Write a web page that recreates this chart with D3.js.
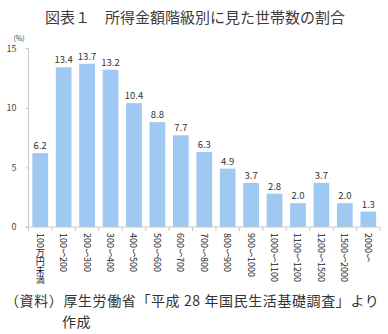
<!DOCTYPE html>
<html><head><meta charset="utf-8">
<script src="https://cdn.jsdelivr.net/npm/d3@7"></script>
<style>
body{margin:0;background:#fff;}
svg text{font-family:"Noto Sans CJK JP","Noto Sans",sans-serif;}
</style></head>
<body><svg id="c" width="388" height="334"></svg>
<script>
const categories=["100万円未満","100～200","200～300","300～400","400～500","500～600","600～700","700～800","800～900","900～1000","1000～1100","1100～1200","1200～1500","1500～2000","2000～"];
const values=[6.2,13.4,13.7,13.2,10.4,8.8,7.7,6.3,4.9,3.7,2.8,2.0,3.7,2.0,1.3];
const yTicks=[0,5,10,15];
const title="図表１　所得金額階級別に見た世帯数の割合";
const source1="（資料）厚生労働省「平成 28 年国民生活基礎調査」より";
const source2="作成";

const svg=d3.select("#c");
const pL=28.5,pR=380,pT=48.3,pB=227;
const x=d3.scaleBand().domain(categories).range([pL,pR]).paddingInner(0.33).paddingOuter(0.165);
const y=d3.scaleLinear().domain([0,15]).range([pB,pT]);

svg.append("text").attr("x",45).attr("y",23).attr("font-size",15).attr("fill","#3d3d3d").text(title);

svg.selectAll("rect.bar").data(values).join("rect").attr("class","bar")
 .attr("x",(d,i)=>x(categories[i])).attr("width",x.bandwidth())
 .attr("y",d=>y(d)).attr("height",d=>y(0)-y(d)).attr("fill","#9fc8f3");

svg.selectAll("text.val").data(values).join("text").attr("class","val")
 .attr("x",(d,i)=>x(categories[i])+x.bandwidth()/2).attr("y",d=>y(d)-4)
 .attr("text-anchor","middle").attr("font-size",9.5).attr("fill","#333").text(d=>d.toFixed(1));

// y axis
const ya=svg.append("g").attr("transform",`translate(${pL},0)`).call(d3.axisLeft(y).tickValues(yTicks).tickSize(3).tickPadding(9));
ya.select(".domain").attr("stroke","#c8c8c8").attr("d",`M-3,${pT}H0V${pB}H-3`);
ya.selectAll(".tick line").attr("stroke","#c8c8c8");
ya.selectAll(".tick text").attr("font-size",9).attr("fill","#444").attr("font-family","Noto Sans, sans-serif");
svg.append("text").attr("x",19).attr("y",41).attr("text-anchor","middle").attr("font-size",7).attr("fill","#444").text("(%)");

// x axis
const step=x.step();
svg.append("line").attr("x1",pL).attr("x2",pR).attr("y1",pB).attr("y2",pB).attr("stroke","#c8c8c8");
svg.selectAll("line.xt").data(d3.range(categories.length+1)).join("line").attr("class","xt")
 .attr("x1",i=>pL+i*step).attr("x2",i=>pL+i*step).attr("y1",pB).attr("y2",pB+4).attr("stroke","#c8c8c8");
svg.selectAll("text.cat").data(categories).join("text").attr("class","cat")
 .attr("x",d=>x(d)+x.bandwidth()/2).attr("y",233)
 .style("writing-mode","vertical-rl").style("text-orientation","mixed")
 .attr("font-size",9).attr("fill","#222").text(d=>d);

svg.append("text").attr("x",5).attr("y",306).attr("font-size",14).attr("letter-spacing",0.6).attr("fill","#333").text(source1);
svg.append("text").attr("x",62).attr("y",327).attr("font-size",14).attr("letter-spacing",0.6).attr("fill","#333").text(source2);
</script></body></html>
